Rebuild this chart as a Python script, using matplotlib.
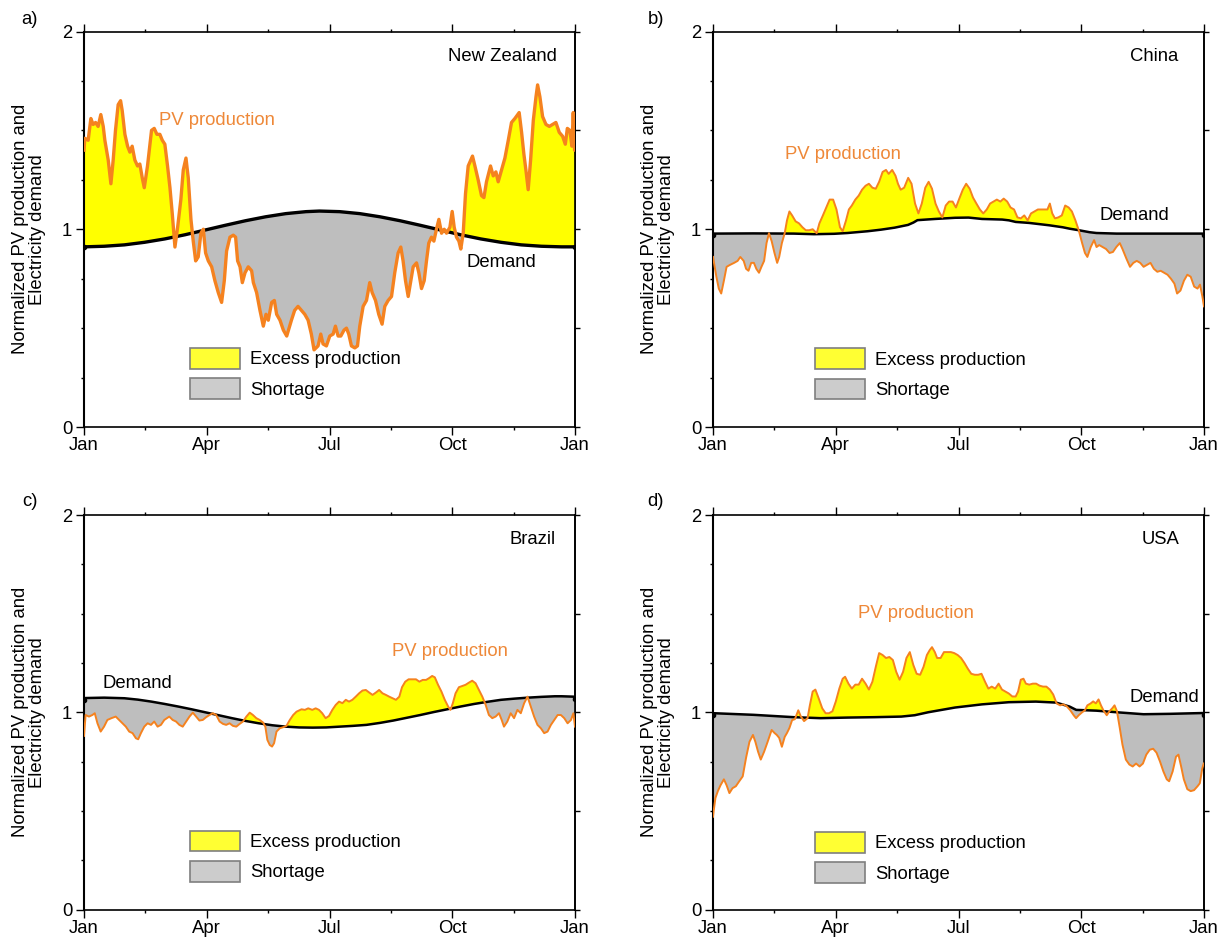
import numpy as np
import matplotlib
matplotlib.use("Agg")
import matplotlib.pyplot as plt
from matplotlib.patches import Patch
from matplotlib.ticker import FixedLocator

plt.rcParams['font.family'] = ['Liberation Sans', 'DejaVu Sans']

# ---------------- data (day of year, normalized value) ----------------
nz_pv_day = [0, 0.6, 3.1, 5.1, 6.8, 8.6, 10.5, 12.5, 14.3, 15.5, 18.0, 20.0, 21.7, 23.4, 25.4, 27.2, 28.4,
             30.4, 32.4, 34.1, 35.8, 37.8, 39.8, 41.5, 43.3, 44.8, 47.2, 50.2, 52.2, 54.2, 56.4, 58.2, 60.1,
             62.1, 63.9, 65.6, 67.6, 69.6, 72.0, 73.8, 75.8, 77.5, 79.5, 81.2, 83.0, 84.9, 86.9, 88.7, 90.4,
             92.4, 94.9, 97.3, 99.8, 102.3, 104.3, 106.0, 108.5, 111.0, 112.7, 114.2, 116.0, 117.7, 119.7,
             122.1, 124.6, 125.9, 128.3, 130.8, 133.3, 135.3, 137.0, 139.5, 141.5, 143.2, 145.7, 148.2, 150.7,
             154.2, 156.6, 159.1, 161.6, 164.1, 166.6, 169.0, 171.0, 174.0, 176.0, 177.7, 180.2, 182.7, 185.2,
             186.9, 188.9, 190.9, 193.3, 195.1, 196.8, 198.8, 201.3, 203.3, 205.0, 207.5, 210.0, 212.4, 214.2,
             216.7, 219.1, 221.6, 223.6, 226.1, 228.6, 231.0, 233.5, 235.5, 237.2, 239.0, 241.0, 243.0, 244.7,
             247.2, 248.9, 250.9, 252.9, 254.6, 256.3, 258.3, 260.1, 262.0, 263.8, 265.8, 267.8, 269.5, 272.0,
             273.7, 275.2, 276.9, 278.7, 280.1, 281.9, 283.6, 285.6, 288.8, 290.6, 293.0, 295.5, 297.3, 299.2,
             302.2, 304.2, 306.2, 307.9, 310.4, 312.9, 315.4, 317.8, 320.3, 323.5, 325.3, 327.0, 328.5, 330.2,
             332.0, 334.0, 336.0, 337.2, 338.9, 340.9, 343.4, 345.9, 348.3, 350.8, 353.3, 355.8, 357.8, 359.3,
             361.2, 362.7, 363.7, 364.7, 365]
nz_pv = [1.40, 1.46, 1.45, 1.56, 1.53, 1.54, 1.52, 1.58, 1.52, 1.45, 1.35, 1.23, 1.35, 1.50, 1.63, 1.65, 1.60,
         1.48, 1.42, 1.39, 1.42, 1.35, 1.32, 1.33, 1.26, 1.21, 1.32, 1.50, 1.51, 1.48, 1.48, 1.45, 1.43,
         1.32, 1.21, 1.08, 0.91, 1.01, 1.15, 1.30, 1.36, 1.26, 1.05, 0.94, 0.84, 0.86, 0.98, 1.00, 0.88,
         0.84, 0.81, 0.74, 0.68, 0.63, 0.74, 0.89, 0.96, 0.97, 0.96, 0.84, 0.81, 0.73, 0.78,
         0.81, 0.79, 0.73, 0.68, 0.59, 0.51, 0.57, 0.54, 0.63, 0.64, 0.57, 0.54, 0.49, 0.46,
         0.54, 0.59, 0.61, 0.59, 0.57, 0.54, 0.47, 0.39, 0.41, 0.47, 0.42, 0.41, 0.46, 0.47,
         0.51, 0.46, 0.46, 0.49, 0.50, 0.47, 0.41, 0.40, 0.41, 0.51, 0.61, 0.64, 0.73, 0.68,
         0.64, 0.57, 0.52, 0.61, 0.64, 0.66, 0.78, 0.88, 0.91, 0.84, 0.74, 0.66, 0.74, 0.81,
         0.83, 0.78, 0.70, 0.74, 0.84, 0.93, 0.96, 0.94, 1.00, 1.05, 0.98, 1.00, 0.98, 1.01,
         1.09, 1.01, 0.96, 0.94, 0.90, 0.98, 1.18, 1.32, 1.37, 1.32, 1.25, 1.17, 1.16, 1.24,
         1.32, 1.27, 1.29, 1.24, 1.30, 1.36, 1.45, 1.54, 1.56, 1.59, 1.49, 1.38, 1.30, 1.20,
         1.35, 1.55, 1.67, 1.73, 1.67, 1.57, 1.53, 1.52, 1.53, 1.54, 1.49, 1.47, 1.43, 1.51,
         1.50, 1.42, 1.59, 1.40, 1.40]
nz_dem_day = [0, 15, 30, 45, 60, 75, 90, 105, 120, 135, 150, 165, 175, 190, 205, 220, 235, 250, 265, 280,
              295, 310, 325, 340, 355, 365]
nz_dem = [0.911, 0.914, 0.921, 0.934, 0.951, 0.972, 0.996, 1.020, 1.043, 1.063, 1.079, 1.089, 1.092, 1.089,
          1.079, 1.063, 1.043, 1.020, 0.996, 0.972, 0.951, 0.934, 0.921, 0.914, 0.911, 0.911]

cn_pv_day = [0, 2.5, 4.3, 6.1, 8.1, 10.1, 12.7, 15.7, 18.3, 20.3, 22.8, 24.6, 26.4, 28.4, 30.4, 32.2, 34.2,
             36.0, 38.0, 39.8, 41.6, 43.6, 45.7, 47.7, 49.2, 51.2, 53.3, 55.0, 56.8, 58.8, 61.4, 63.9, 66.5,
             69.0, 71.5, 74.1, 77.1, 79.1, 81.7, 84.2, 86.7, 89.3, 91.8, 94.4, 96.4, 98.9, 101.0, 103.2,
             105.8, 108.3, 110.8, 113.4, 115.9, 118.5, 121.0, 123.5, 126.1, 128.6, 130.6, 133.2, 135.7,
             137.5, 139.5, 142.1, 145.1, 147.6, 150.2, 152.7, 155.2, 157.8, 160.3, 162.8, 165.4, 167.9,
             170.5, 173.0, 175.5, 178.1, 180.6, 183.1, 185.7, 188.2, 190.8, 193.3, 195.8, 198.4, 200.9,
             203.5, 206.0, 208.5, 211.0, 213.6, 216.1, 218.7, 221.2, 223.8, 226.3, 228.8, 231.4, 233.9,
             236.4, 239.0, 241.5, 244.1, 246.6, 248.6, 250.4, 252.2, 254.2, 256.7, 259.3, 261.8, 264.4,
             266.8, 269.4, 271.9, 274.4, 276.5, 278.3, 280.8, 283.3, 285.1, 287.1, 289.7, 292.2, 294.8,
             297.3, 299.8, 302.4, 304.4, 307.4, 310.0, 312.5, 315.0, 317.6, 320.1, 322.6, 325.2, 327.7,
             330.3, 332.8, 335.3, 337.9, 340.4, 343.0, 345.0, 347.5, 350.1, 352.6, 355.1, 357.7, 360.2,
             362.0, 363.8, 365]
cn_pv = [0.86, 0.76, 0.70, 0.675, 0.74, 0.81, 0.82, 0.83, 0.84, 0.86, 0.84, 0.80, 0.79, 0.83, 0.83, 0.80, 0.78,
         0.81, 0.84, 0.93, 0.98, 0.94, 0.88, 0.83, 0.86, 0.93, 0.98, 1.045, 1.09, 1.07, 1.04, 1.03, 1.01,
         0.995, 0.995, 1.00, 0.98, 1.03, 1.07, 1.11, 1.15, 1.15, 1.10, 1.01, 0.99, 1.045, 1.10, 1.12,
         1.15, 1.17, 1.20, 1.22, 1.23, 1.21, 1.205, 1.24, 1.29, 1.30, 1.28, 1.30, 1.27,
         1.23, 1.20, 1.21, 1.26, 1.23, 1.13, 1.08, 1.13, 1.21, 1.24, 1.205, 1.13, 1.09,
         1.06, 1.12, 1.14, 1.14, 1.11, 1.155, 1.20, 1.23, 1.205, 1.16, 1.13, 1.10, 1.08,
         1.10, 1.13, 1.14, 1.15, 1.14, 1.155, 1.14, 1.11, 1.10, 1.06, 1.055, 1.07, 1.045,
         1.08, 1.09, 1.10, 1.10, 1.10, 1.10, 1.13, 1.08, 1.055, 1.06, 1.07, 1.12, 1.11,
         1.09, 1.045, 0.995, 0.93, 0.88, 0.86, 0.91, 0.945, 0.91, 0.92, 0.91, 0.90, 0.88,
         0.885, 0.91, 0.93, 0.90, 0.85, 0.81, 0.83, 0.84, 0.83, 0.81, 0.82, 0.83, 0.80,
         0.785, 0.79, 0.78, 0.77, 0.75, 0.725, 0.675, 0.69, 0.74, 0.77, 0.76, 0.71, 0.70,
         0.72, 0.66, 0.61]
cn_dem_day = [0, 1, 30, 60, 75, 90, 100, 115, 125, 135, 140, 145, 149, 152, 165, 180, 190, 200, 215, 220, 225,
              235, 250, 260, 265, 272, 280, 285, 300, 330, 364, 365]
cn_dem = [0.970, 0.978, 0.979, 0.978, 0.975, 0.977, 0.981, 0.990, 0.998, 1.008, 1.015, 1.022, 1.034, 1.046,
          1.052, 1.058, 1.059, 1.052, 1.049, 1.045, 1.037, 1.032, 1.020, 1.010, 1.003, 0.995, 0.985, 0.981,
          0.978, 0.978, 0.978, 0.972]

br_pv_day = [0, 1.2, 3.7, 6.2, 8.0, 10.0, 12.4, 14.9, 17.4, 20.4, 23.6, 26.1, 28.6, 31.1, 33.6, 36.1, 38.6,
             40.3, 42.3, 44.8, 47.3, 49.8, 52.2, 54.7, 57.2, 59.7, 63.4, 65.9, 68.4, 70.9, 73.4, 75.9, 78.4,
             80.9, 83.3, 85.8, 88.3, 90.8, 93.3, 95.8, 98.3, 100.8, 103.3, 105.7, 108.2, 110.7, 113.2, 115.7,
             118.2, 120.7, 123.2, 125.6, 128.1, 130.6, 133.1, 134.8, 136.3, 138.1, 139.8, 141.3, 143.1, 145.6,
             148.0, 150.5, 153.0, 155.5, 158.0, 161.7, 164.2, 166.7, 169.7, 172.2, 174.7, 177.1, 179.6, 182.1,
             184.6, 187.1, 189.6, 192.1, 194.6, 197.0, 199.5, 202.0, 204.5, 207.0, 209.5, 212.0, 214.5, 217.0,
             219.4, 221.9, 224.4, 226.9, 229.4, 231.9, 234.4, 236.4, 238.8, 241.3, 244.3, 246.8, 249.3, 251.8,
             254.3, 256.3, 258.8, 260.8, 263.2, 265.7, 268.2, 270.7, 272.4, 274.2, 276.2, 278.7, 281.1, 283.6,
             286.1, 288.6, 291.1, 293.6, 296.1, 298.6, 301.0, 303.5, 306.0, 308.5, 310.5, 312.2, 314.7, 317.2,
             319.7, 322.2, 324.7, 327.2, 329.7, 332.1, 334.6, 337.1, 339.6, 342.1, 344.6, 347.1, 349.6, 352.1,
             354.5, 357.0, 359.5, 362.0, 363.8, 365]
br_pv = [0.88, 0.986, 0.978, 0.986, 0.995, 0.944, 0.902, 0.927, 0.961, 0.970, 0.978, 0.961, 0.944, 0.927,
         0.902, 0.894, 0.868, 0.863, 0.894, 0.927, 0.944, 0.936, 0.953, 0.927, 0.936, 0.961, 0.978, 0.961,
         0.953, 0.936, 0.927, 0.953, 0.978, 0.998, 0.978, 0.958, 0.961, 0.975, 0.986, 0.995, 0.986, 0.953,
         0.941, 0.936, 0.944, 0.931, 0.927, 0.941, 0.953, 0.978, 0.998, 0.986, 0.970, 0.961, 0.948, 0.927,
         0.860, 0.834, 0.826, 0.843, 0.902, 0.919, 0.924, 0.931, 0.961, 0.986, 1.003, 1.015, 1.012, 1.020,
         1.012, 1.020, 1.012, 0.995, 0.970, 0.981, 1.012, 1.037, 1.054, 1.046, 1.063, 1.054, 1.063, 1.079,
         1.096, 1.110, 1.113, 1.100, 1.088, 1.100, 1.113, 1.096, 1.088, 1.079, 1.071, 1.063, 1.079, 1.127,
         1.155, 1.167, 1.167, 1.167, 1.155, 1.164, 1.164, 1.172, 1.184, 1.177, 1.139, 1.105, 1.063, 1.029,
         1.012, 1.046, 1.096, 1.127, 1.133, 1.139, 1.150, 1.160, 1.147, 1.113, 1.079, 1.037, 0.986, 0.970,
         0.978, 0.995, 0.961, 0.927, 0.953, 0.995, 0.970, 1.012, 0.995, 1.046, 1.079, 1.029, 0.978, 0.936,
         0.919, 0.894, 0.902, 0.936, 0.961, 0.986, 0.986, 0.970, 0.944, 0.961, 0.995, 0.927]
br_dem_day = [0, 1, 15, 30, 40, 50, 60, 70, 80, 90, 100, 110, 120, 130, 140, 150, 160, 170, 180, 190, 200,
              210, 220, 230, 240, 250, 260, 270, 280, 290, 300, 310, 320, 330, 340, 350, 355, 364, 365]
br_dem = [1.060, 1.072, 1.074, 1.071, 1.064, 1.054, 1.042, 1.029, 1.015, 1.000, 0.985, 0.970, 0.956, 0.944,
          0.934, 0.927, 0.923, 0.922, 0.923, 0.927, 0.931, 0.936, 0.946, 0.958, 0.972, 0.986, 1.001, 1.015,
          1.029, 1.042, 1.053, 1.063, 1.069, 1.074, 1.078, 1.081, 1.081, 1.079, 1.065]

us_pv_day = [0, 0.5, 1.8, 3.6, 5.6, 8.1, 10.1, 12.2, 14.5, 17.0, 19.5, 22.1, 24.6, 27.1, 29.7, 31.5, 33.5,
             35.5, 38.0, 40.6, 43.6, 45.7, 47.4, 49.2, 51.2, 53.3, 55.0, 56.8, 58.8, 60.9, 63.4, 65.2, 67.7,
             70.3, 72.0, 74.1, 76.1, 78.6, 81.2, 83.7, 86.2, 88.8, 91.3, 93.9, 96.4, 98.2, 100.7, 103.2,
             105.8, 108.3, 110.8, 113.4, 115.9, 118.5, 121.0, 123.5, 126.1, 128.6, 131.1, 133.7, 136.2,
             138.7, 141.3, 143.8, 146.3, 148.9, 151.4, 154.0, 156.5, 159.0, 161.1, 162.8, 164.9, 166.6,
             169.2, 171.7, 174.3, 176.8, 179.3, 181.9, 184.4, 186.9, 189.5, 192.0, 194.6, 197.1, 199.6,
             202.2, 204.7, 207.2, 209.8, 212.3, 214.8, 217.4, 219.9, 222.5, 225.0, 226.8, 228.8, 230.8,
             232.6, 235.1, 237.7, 240.2, 242.7, 245.3, 247.8, 250.4, 252.9, 255.4, 258.0, 260.5, 263.0,
             265.6, 268.1, 269.9, 271.9, 274.4, 276.5, 278.3, 280.8, 282.6, 284.6, 286.6, 288.4, 290.2,
             292.7, 294.7, 296.8, 298.5, 300.3, 302.4, 304.4, 306.9, 309.5, 312.0, 314.5, 317.1, 319.6,
             322.1, 324.7, 327.2, 329.7, 332.3, 334.8, 337.3, 339.1, 341.7, 344.2, 346.0, 348.0, 350.0,
             352.6, 355.1, 357.6, 360.2, 361.9, 363.7, 364.8]
us_pv = [0.47, 0.50, 0.565, 0.60, 0.63, 0.66, 0.63, 0.59, 0.615, 0.625, 0.65, 0.675, 0.77, 0.85, 0.885, 0.85, 0.80,
         0.76, 0.80, 0.85, 0.91, 0.895, 0.885, 0.87, 0.825, 0.875, 0.895, 0.92, 0.96, 0.965, 1.01, 0.98, 0.955,
         0.97, 1.035, 1.105, 1.115, 1.07, 1.02, 0.995, 0.995, 1.005, 1.055, 1.12, 1.17, 1.18, 1.145, 1.12,
         1.14, 1.14, 1.17, 1.145, 1.115, 1.155, 1.23, 1.30, 1.29, 1.275, 1.28, 1.265, 1.205,
         1.165, 1.205, 1.275, 1.305, 1.24, 1.195, 1.19, 1.23, 1.29, 1.315, 1.33, 1.305, 1.275,
         1.275, 1.305, 1.305, 1.305, 1.30, 1.29, 1.275, 1.25, 1.22, 1.195, 1.19, 1.19, 1.195,
         1.155, 1.12, 1.13, 1.12, 1.145, 1.115, 1.105, 1.095, 1.08, 1.08, 1.105, 1.165, 1.17,
         1.145, 1.14, 1.145, 1.145, 1.135, 1.13, 1.13, 1.115, 1.09, 1.045, 1.035, 1.04, 1.03,
         1.01, 0.985, 0.97, 0.985, 1.00, 1.01, 1.035, 1.045, 1.055, 1.045, 1.065, 1.035, 1.01,
         0.985, 1.005, 1.02, 1.035, 1.005, 0.92, 0.835, 0.76, 0.735, 0.725, 0.74, 0.725, 0.74,
         0.785, 0.81, 0.815, 0.795, 0.75, 0.70, 0.66, 0.65, 0.70, 0.775, 0.785, 0.725, 0.66,
         0.61, 0.60, 0.605, 0.625, 0.64, 0.715, 0.74]
us_dem_day = [0, 1, 30, 60, 80, 100, 120, 140, 150, 160, 170, 180, 200, 220, 240, 255, 265, 270, 285, 300,
              320, 340, 364, 365]
us_dem = [0.985, 0.995, 0.987, 0.975, 0.970, 0.973, 0.975, 0.978, 0.985, 1.000, 1.012, 1.024, 1.040, 1.051,
          1.054, 1.049, 1.029, 1.012, 1.008, 1.000, 0.990, 0.992, 0.996, 0.985]

# ---------------- styling ----------------
ORANGE = '#F5821F'
ORANGE_TXT = '#EE8838'
YELLOW = '#FFFF00'
GREY = '#BEBEBE'
W, H = 1230, 942

fig = plt.figure(figsize=(W / 100, H / 100), dpi=100)

panels = [
    dict(letter='a)', name='New Zealand', pvd=nz_pv_day, pv=nz_pv, dd=nz_dem_day, dem=nz_dem,
         rect=[84, 31.5, 491, 395.5], pvlw=2.4, dlw=2.4,
         pvtxt=(98.6, 1.55), dtxt=(310.4, 0.83), namex=0.963, leg=(0.2155, 0.200), lx=30, ly=19),
    dict(letter='b)', name='China', pvd=cn_pv_day, pv=cn_pv, dd=cn_dem_day, dem=cn_dem,
         rect=[713, 31.5, 491, 395.5], pvlw=1.4, dlw=1.8,
         pvtxt=(96.7, 1.38), dtxt=(313.1, 1.071), namex=0.947, leg=(0.208, 0.199), lx=656, ly=19),
    dict(letter='c)', name='Brazil', pvd=br_pv_day, pv=br_pv, dd=br_dem_day, dem=br_dem,
         rect=[84, 515, 491, 394.5], pvlw=1.4, dlw=1.8,
         pvtxt=(272.4, 1.307), dtxt=(39.9, 1.147), namex=0.961, leg=(0.2155, 0.200), lx=30, ly=502),
    dict(letter='d)', name='USA', pvd=us_pv_day, pv=us_pv, dd=us_dem_day, dem=us_dem,
         rect=[713, 515, 491, 394.5], pvlw=1.4, dlw=1.8,
         pvtxt=(150.9, 1.50), dtxt=(335.3, 1.074), namex=0.951, leg=(0.208, 0.197), lx=656, ly=502),
]

FS = 13.3
x_major = [0, 91.25, 182.5, 273.75, 365]
x_minor = [45.625, 136.875, 228.125, 319.375]
x_labels = ['Jan', 'Apr', 'Jul', 'Oct', 'Jan']
y_major = [0, 1, 2]
y_minor = [0.25, 0.5, 0.75, 1.25, 1.5, 1.75]
y_labels = ['0', '1', '2']

for p in panels:
    l, t, w, h = p['rect']
    ax = fig.add_axes([l / W, 1 - (t + h) / H, w / W, h / H])
    days = np.array(p['pvd'], dtype=float)
    pv = np.array(p['pv'], dtype=float)
    dem_on_pv = np.interp(days, p['dd'], p['dem'])
    ax.fill_between(days, pv, dem_on_pv, where=pv >= dem_on_pv, interpolate=True,
                    facecolor=YELLOW, edgecolor='none', zorder=1)
    ax.fill_between(days, pv, dem_on_pv, where=pv < dem_on_pv, interpolate=True,
                    facecolor=GREY, edgecolor='none', zorder=1)
    ax.plot(p['dd'], p['dem'], color='black', lw=p['dlw'], zorder=3,
            marker='o', markevery=[0, len(p['dd']) - 1], ms=3)
    ax.plot(days, pv, color=ORANGE, lw=p['pvlw'], zorder=4, solid_joinstyle='round')

    ax.set_xlim(0, 365)
    ax.set_ylim(0, 2)
    ax.xaxis.set_major_locator(FixedLocator(x_major))
    ax.xaxis.set_minor_locator(FixedLocator(x_minor))
    ax.set_xticklabels(x_labels)
    ax.yaxis.set_major_locator(FixedLocator(y_major))
    ax.yaxis.set_minor_locator(FixedLocator(y_minor))
    ax.set_yticklabels(y_labels)
    ax.tick_params(axis='x', which='major', direction='out', length=5.5, width=1.0,
                   top=True, bottom=True, labelsize=FS, pad=2)
    ax.tick_params(axis='x', which='minor', direction='out', length=2.5, width=1.0,
                   top=True, bottom=True)
    ax.tick_params(axis='y', which='major', direction='out', length=5.5, width=1.0,
                   left=True, right=False, labelsize=FS, pad=3)
    ax.tick_params(axis='y', which='minor', direction='out', length=2.5, width=1.0,
                   left=True, right=False)
    sec = ax.secondary_yaxis('right')
    sec.set_yticks([0, 0.5, 1, 1.5, 2])
    sec.tick_params(direction='out', length=3.5, width=1.0, labelright=False)
    for s in sec.spines.values():
        s.set_linewidth(1.2)
    for s in ax.spines.values():
        s.set_linewidth(1.2)
    ax.spines['left'].set_linewidth(1.5)

    ax.set_ylabel('Normalized PV production and\nElectricity demand', fontsize=FS, linespacing=1.05)
    ax.yaxis.set_label_coords(-0.077, 0.5)

    ax.text(p['namex'], 0.937, p['name'], transform=ax.transAxes, ha='right', va='center', fontsize=FS)
    ax.text(p['pvtxt'][0], p['pvtxt'][1], 'PV production', color=ORANGE_TXT, ha='center', va='center',
            fontsize=FS, zorder=5)
    ax.text(p['dtxt'][0], p['dtxt'][1], 'Demand', color='black', ha='center', va='center',
            fontsize=FS, zorder=5)

    handles = [Patch(facecolor='#FFFF33', edgecolor='#7F7F7F', lw=1.2, label='Excess production'),
               Patch(facecolor='#CCCCCC', edgecolor='#7F7F7F', lw=1.2, label='Shortage')]
    ax.legend(handles=handles, loc='upper left', bbox_to_anchor=p['leg'], frameon=False,
              borderpad=0, borderaxespad=0, fontsize=FS, handlelength=2.7, handleheight=1.35,
              labelspacing=0.52, handletextpad=0.56)

    fig.text(p['lx'] / W, 1 - p['ly'] / H, p['letter'], ha='center', va='center', fontsize=FS)

fig.savefig('out.png', dpi=100)
